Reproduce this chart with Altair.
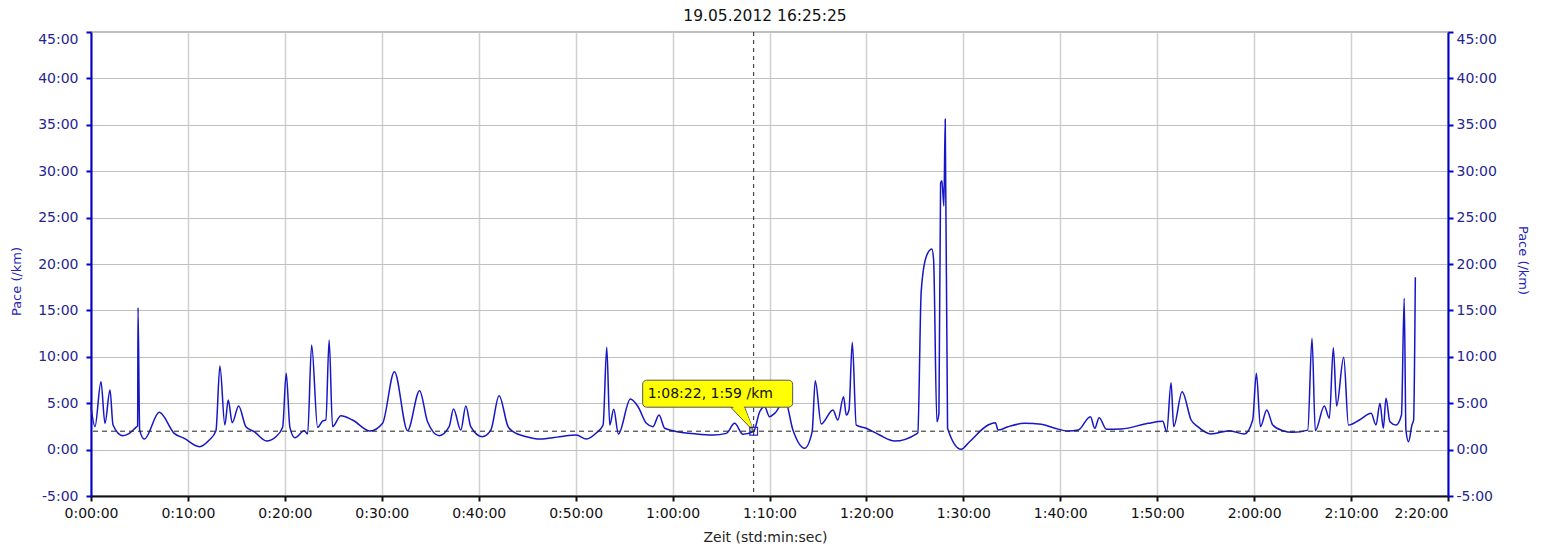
import altair as alt
import pandas as pd

# elapsed time in minutes
t_min = [0.00, 0.41, 1.03, 1.44, 1.96, 2.27, 3.27, 3.95, 4.64, 4.81, 4.85, 5.02, 5.50, 7.05, 8.59,
         9.62, 11.18, 12.20, 12.89, 13.30, 13.81, 14.16, 14.57, 15.23, 15.98, 16.84, 18.12, 19.08,
         19.77, 20.14, 20.52, 21.04, 22.00, 22.35, 22.76, 23.38, 23.89, 24.23, 24.57, 24.92, 25.78,
         26.98, 28.80, 30.08, 31.30, 32.66, 33.90, 34.72, 35.92, 36.95, 37.40, 38.15, 38.67, 39.18,
         40.35, 41.25, 42.10, 43.03, 43.55, 44.93, 46.30, 48.36, 50.08, 51.11, 52.15, 52.83, 53.21,
         53.52, 53.93, 54.41, 55.65, 56.44, 57.30, 57.98, 58.60, 59.19, 60.05, 62.45, 64.17, 65.55,
         66.40, 67.26, 68.37, 68.99, 69.50, 70.00, 70.53, 71.60, 72.42, 73.62, 74.40, 74.72, 75.34,
         76.54, 77.05, 77.64, 77.92, 78.20, 78.54, 78.95, 79.98, 81.35, 82.90, 85.13, 85.30, 85.65,
         86.17, 86.75, 86.93, 87.27, 87.48, 87.65, 87.79, 87.99, 88.13, 88.37, 89.78, 90.64, 92.55,
         93.31, 93.58, 94.61, 96.33, 98.05, 99.43, 100.80, 101.84, 103.11, 103.56, 104.01, 104.76,
         106.31, 109.06, 110.57, 110.98, 111.43, 111.70, 112.57, 113.50, 114.18, 115.56, 117.45,
         119.00, 119.85, 120.23, 120.65, 121.30, 121.92, 122.95, 123.98, 125.53, 125.97, 126.31,
         127.24, 127.76, 128.17, 128.51, 129.24, 129.73, 130.86, 132.07, 132.57, 132.98, 133.33,
         133.60, 134.01, 134.63, 135.20, 135.48, 135.66, 135.93, 136.28, 136.45, 136.63]

# pace in minutes per km
pace = [4.60, 2.47, 7.32, 2.83, 6.42, 2.65, 1.50, 1.75, 2.40, 2.55, 15.30, 2.10, 1.14, 4.02, 1.75,
        1.21, 0.32, 1.03, 2.04, 9.00, 2.65, 5.34, 2.90, 4.70, 2.47, 1.93, 0.93, 1.39,
        2.40, 8.22, 2.40, 1.28, 2.04, 1.68, 11.27, 2.40, 3.08, 3.19, 11.81, 2.47, 3.65,
        3.19, 2.00, 2.83, 8.39, 2.04, 6.35, 3.00, 1.50, 2.47, 4.37, 2.10, 4.70, 2.47,
        1.39, 2.10, 5.81, 2.47, 1.93, 1.39, 1.14, 1.39, 1.57, 1.14, 1.82, 2.65, 11.02,
        2.65, 4.34, 1.68, 5.45, 4.62, 2.83, 2.47, 3.73, 2.30, 2.04, 1.68, 1.57, 1.75,
        2.83, 1.65, 1.98, 4.08, 4.62, 3.55, 3.90, 5.30, 2.10, 0.14, 1.93, 7.43, 2.76,
        4.27, 3.19, 5.70, 3.73, 4.27, 11.56, 2.65, 2.30, 1.57, 0.93, 1.68, 1.80, 17.02,
        20.79, 21.62, 20.43, 3.00, 3.90, 28.70, 28.98, 26.25, 35.60, 2.30, 0.03, 0.85, 2.65,
        2.90, 2.10, 2.47, 2.83, 2.73, 2.30, 2.00, 2.10, 3.55, 2.30, 3.44, 2.19,
        2.22, 2.83, 3.05, 1.93, 7.21, 2.47, 6.24, 3.19, 2.47, 1.68, 2.04,
        1.68, 3.19, 8.22, 2.47, 4.27, 2.65, 2.04, 1.86, 2.10, 11.99, 2.04,
        4.70, 3.37, 10.98, 4.70, 9.95, 2.65, 3.19, 3.91, 2.65, 4.99, 2.30,
        5.53, 3.00, 2.65, 3.73, 16.30, 2.10, 0.85, 2.65, 3.19, 18.57]

x_ticks = [0, 10, 20, 30, 40, 50, 60, 70, 80, 90, 100, 110, 120, 130, 140]
y_ticks = [-5, 0, 5, 10, 15, 20, 25, 30, 35, 40, 45]
ref_pace = [1.983]
cursor_t = [68 + 22 / 60]
cursor_p = [1.983]
tip_label = ["1:08:22, 1:59 /km"]
chart_title = ["19.05.2012 16:25:25"]
x_title = "Zeit (std:min:sec)"
y_title = "Pace (/km)"

FONT = "DejaVu Sans"
LINE_BLUE = "#1616c4"
AXIS_BLUE = "#0000cc"
LABEL_NAVY = "#25258f"

df = pd.DataFrame({"t": t_min, "p": pace})
cur = pd.DataFrame({"t": cursor_t, "p": cursor_p, "label": tip_label})
ref = pd.DataFrame({"p": ref_pace})
ttl = pd.DataFrame({"title": chart_title})

xscale = alt.Scale(domain=[0, 140], nice=False, zero=False)
yscale = alt.Scale(domain=[-5, 45], nice=False, zero=False)

x_axis = alt.Axis(
    values=x_ticks,
    labelExpr="floor(datum.value/60) + ':' + (datum.value % 60 < 10 ? '0' : '') + (datum.value % 60) + ':00'",
    labelAlign={"condition": {"test": "datum.value >= 140", "value": "right"}, "value": "center"},
    labelFont=FONT, labelFontSize=14, labelColor="#111111", labelPadding=5,
    domainColor="#111111", domainWidth=2, tickColor="#111111", tickWidth=2, tickSize=5,
    grid=True, gridColor="#d0d0d0", gridWidth=1.5,
    title=x_title, titleFont=FONT, titleFontSize=14, titleFontWeight="normal", titleColor="#222222",
    titleX=674, titleY=41, titleAlign="center", titleBaseline="middle",
)

y_label_expr = "datum.value + ':00'"
y_left_axis = alt.Axis(
    orient="left", values=y_ticks, labelExpr=y_label_expr,
    labelBaseline={"condition": {"test": "datum.value >= 45", "value": "top"}, "value": "middle"},
    labelFont=FONT, labelFontSize=14, labelColor=LABEL_NAVY, labelPadding=8,
    domainColor=AXIS_BLUE, domainWidth=2, tickColor=AXIS_BLUE, tickWidth=2, tickSize=5,
    grid=True, gridColor="#c0c0c0", gridWidth=1,
    title=y_title, titleFont=FONT, titleFontSize=13, titleFontWeight="normal", titleColor="#2323b4",
    titleAngle=-90, titleX=-75, titleY=249, titleAlign="center", titleBaseline="middle",
)
y_right_axis = alt.Axis(
    orient="right", values=y_ticks, labelExpr=y_label_expr,
    labelBaseline={"condition": {"test": "datum.value >= 45", "value": "top"}, "value": "middle"},
    labelFont=FONT, labelFontSize=14, labelColor=LABEL_NAVY, labelPadding=3,
    domainColor=AXIS_BLUE, domainWidth=2, tickColor=AXIS_BLUE, tickWidth=2, tickSize=5,
    grid=False,
    title=y_title, titleFont=FONT, titleFontSize=13, titleFontWeight="normal", titleColor="#2323b4",
    titleAngle=90, titleX=74, titleY=228, titleAlign="center", titleBaseline="middle",
)

X = alt.X("t:Q", scale=xscale, axis=x_axis)
Y = alt.Y("p:Q", scale=yscale, axis=y_left_axis)

line = alt.Chart(df).mark_line(color=LINE_BLUE, strokeWidth=1.5, interpolate="monotone").encode(x=X, y=Y)

vrule = alt.Chart(cur).mark_rule(color="#222222", strokeWidth=1, strokeDash=[4, 4]).encode(x=X)

pointer = alt.Chart(cur).mark_point(
    shape="M0,0L-1.92,-2L-0.75,-2Z", size=576, filled=True, fill="#ffff00",
    stroke="#555555", strokeWidth=1, opacity=1,
).encode(x=X, y=Y)
box = alt.Chart(cur).mark_rect(
    fill="#ffff00", stroke="#555555", strokeWidth=1, cornerRadius=4,
    xOffset=-111, x2Offset=39, yOffset=-51, y2Offset=-24,
).encode(x=X, x2="t:Q", y=Y, y2="p:Q")
pointer_cover = alt.Chart(cur).mark_point(
    shape="M-0.1,-0.3L-1.8,-2.1L-0.85,-2.1Z", size=576, filled=True, fill="#ffff00",
    strokeWidth=0, opacity=1,
).encode(x=X, y=Y)
tip_text = alt.Chart(cur).mark_text(
    align="left", baseline="middle", dx=-106, dy=-37, font=FONT, fontSize=14, color="#111111",
).encode(x=X, y=Y, text="label:N")
marker = alt.Chart(cur).mark_point(
    shape="square", size=60, filled=False, stroke="#2a2acc", strokeWidth=1.2, opacity=1,
).encode(x=X, y=Y)

title_mark = alt.Chart(ttl).mark_text(
    align="center", baseline="middle", font=FONT, fontSize=15.5, color="#111111",
).encode(x=alt.value(674), y=alt.value(-16), text="title:N")

main = alt.layer(line, vrule, pointer, box, pointer_cover, tip_text, marker, title_mark)

hrule = alt.Chart(ref).mark_rule(color="#222222", strokeWidth=1, strokeDash=[5, 4]).encode(
    y=alt.Y("p:Q", scale=yscale, axis=y_right_axis)
)

chart = alt.layer(main, hrule).resolve_scale(y="independent").properties(
    width=1357,
    height=464,
    autosize=alt.AutoSizeParams(type="none"),
    padding={"left": 83, "top": 24, "right": 87, "bottom": 54},
).configure_view(stroke="#c0c0c0", strokeWidth=2)

chart.save("out.html", embed_options={"renderer": "svg", "actions": False})
